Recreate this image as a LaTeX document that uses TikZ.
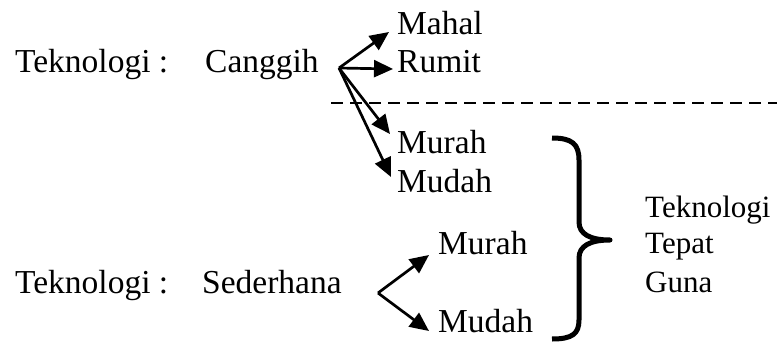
\documentclass[tikz,border=0pt]{standalone}
\usepackage{fontspec}
\setmainfont{Liberation Serif}
\usetikzlibrary{arrows.meta}
\begin{document}
\begin{tikzpicture}[x=1pt,y=-1pt,
  lbl/.style={anchor=base west,inner sep=0pt,font=\fontsize{33.5}{40}\selectfont},
  rlbl/.style={anchor=base west,inner sep=0pt,font=\fontsize{31}{37}\selectfont},
  arr/.style={line width=2.7pt,-{Triangle[length=19pt,width=17pt]}}]
\useasboundingbox (0,0) rectangle (777,343);
% texts
\node[lbl] (tk1) at (15,72) {Teknologi :};
\node[lbl] (cg) at (205,72) {Canggih};
\node[lbl] (mahal) at (397,34) {Mahal};
\node[lbl] (rumit) at (397,72) {Rumit};
\node[lbl] (murah1) at (397,153) {Murah};
\node[lbl] (mudah1) at (397,192) {Mudah};
\node[lbl] (tk2) at (15,293) {Teknologi :};
\node[lbl] (sd) at (202,293) {Sederhana};
\node[lbl] (murah2) at (438,254) {Murah};
\node[lbl] (mudah2) at (438,332) {Mudah};
\node[rlbl] (ttg1) at (645,217) {Teknologi};
\node[rlbl] (ttg2) at (645,253) {Tepat};
\node[rlbl] (ttg3) at (645,292) {Guna};
% connector points
\coordinate (o1) at (339,68);
\coordinate (t1) at (389,32);
\coordinate (t2) at (393,69);
\coordinate (t3) at (390,134);
\coordinate (t4) at (391,177);
\coordinate (o2) at (378,293);
\coordinate (t5) at (429,255);
\coordinate (t6) at (429,331);
\draw[arr] (o1) -- (t1);
\draw[arr] (o1) -- (t2);
\draw[arr] (o1) -- (t3);
\draw[arr] (o1) -- (t4);
\draw[arr] (o2) -- (t5);
\draw[arr] (o2) -- (t6);
% dashed separator
\coordinate (d1) at (331,103);
\coordinate (d2) at (777,103);
\draw[line width=2.7pt,dash pattern=on 12pt off 7pt] (d1) -- (d2);
% brace
\draw[line width=5pt,line join=round]
  (552,138) .. controls (572,138) and (579,144) .. (579,160)
  -- (579,222) .. controls (579,234) and (590,240) .. (610,240)
  .. controls (590,240) and (579,246) .. (579,258)
  -- (579,320) .. controls (579,334) and (572,339) .. (552,339);
\end{tikzpicture}
\end{document}
